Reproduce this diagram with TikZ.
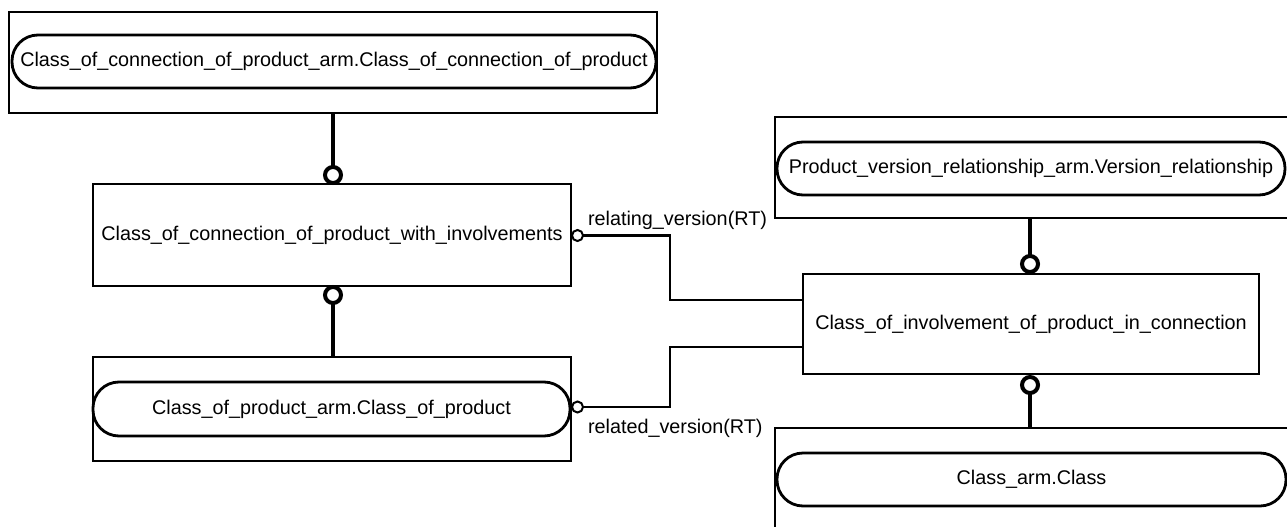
\documentclass[tikz,border=0pt]{standalone}
\usepackage{fontspec}
\setmainfont{Liberation Sans}
\begin{document}
\begin{tikzpicture}[x=1pt,y=-1pt,
  every node/.style={inner sep=0pt,outer sep=0pt,font=\fontsize{19.8}{24}\selectfont},
  outerbox/.style={draw,line width=2.8pt,rectangle},
  entbox/.style={draw,line width=2.8pt,rectangle,text height=14.2pt,text depth=4pt},
  pill/.style={draw,line width=2.8pt,rectangle,rounded corners=26pt,text height=14.2pt,text depth=4pt},
  bigcirc/.style={draw,circle,line width=4pt,minimum size=16pt,fill=white},
  smallcirc/.style={draw,circle,line width=2pt,minimum size=11pt,fill=white},
  thickline/.style={line width=4.5pt},
  thinline/.style={line width=2.3pt},
  lbl/.style={anchor=base west}]
\useasboundingbox (0,0) rectangle (1287,527);
\clip (0,0) rectangle (1287,527);
\fill[white] (0,0) rectangle (1287,527);

% top-left
\node[outerbox,minimum width=648pt,minimum height=101pt] (TLbox) at (333,62.5) {};
\node[pill,minimum width=644pt,minimum height=53pt] (TLpill) at (334,61.5) {Class\_of\_connection\_of\_product\_arm.Class\_of\_connection\_of\_product};

% middle-left
\node[entbox,minimum width=478pt,minimum height=102pt] (M1) at (332,235) {Class\_of\_connection\_of\_product\_with\_involvements};

% lower-left
\node[outerbox,minimum width=478pt,minimum height=104pt] (LLbox) at (332,409) {};
\node[pill,minimum width=477pt,minimum height=54pt] (LLpill) at (331.5,409) {Class\_of\_product\_arm.Class\_of\_product};

% right middle
\node[entbox,minimum width=456pt,minimum height=100pt] (R) at (1031,324) {Class\_of\_involvement\_of\_product\_in\_connection};

% top-right
\node[outerbox,minimum width=515pt,minimum height=101pt] (TRbox) at (1032.5,167.5) {};
\node[pill,minimum width=508pt,minimum height=53pt] (TRpill) at (1031,168.5) {Product\_version\_relationship\_arm.Version\_relationship};

% bottom-right
\node[outerbox,minimum width=515pt,minimum height=112pt] (BRbox) at (1032.5,484) {};
\node[pill,minimum width=509pt,minimum height=53pt] (BRpill) at (1031.5,479.5) {Class\_arm.Class};

% thick connectors with circles
\node[bigcirc] (c1) at (333,175) {};
\draw[thickline] (c1 |- TLbox.south) -- (c1.north);
\node[bigcirc] (c2) at (333,295) {};
\draw[thickline] (c2.south) -- (c2 |- LLbox.north);
\node[bigcirc] (c3) at (1030,264) {};
\draw[thickline] (c3 |- TRbox.south) -- (c3.north);
\node[bigcirc] (c4) at (1030,385) {};
\draw[thickline] (c4.south) -- (c4 |- BRbox.north);

% thin role connectors
\node[smallcirc] (s1) at (577.5,235.5) {};
\node[smallcirc] (s2) at (577.5,407) {};
\draw[thinline] (s1.east) -- ++(87,0) |- ([yshift=24pt]R.west);
\draw[thinline] (s2.east) -- ++(87,0) |- ([yshift=-23pt]R.west);

\node[lbl] (l1) at (588,225) {relating\_version(RT)};
\node[lbl] (l2) at (588,433) {related\_version(RT)};
\end{tikzpicture}
\end{document}
